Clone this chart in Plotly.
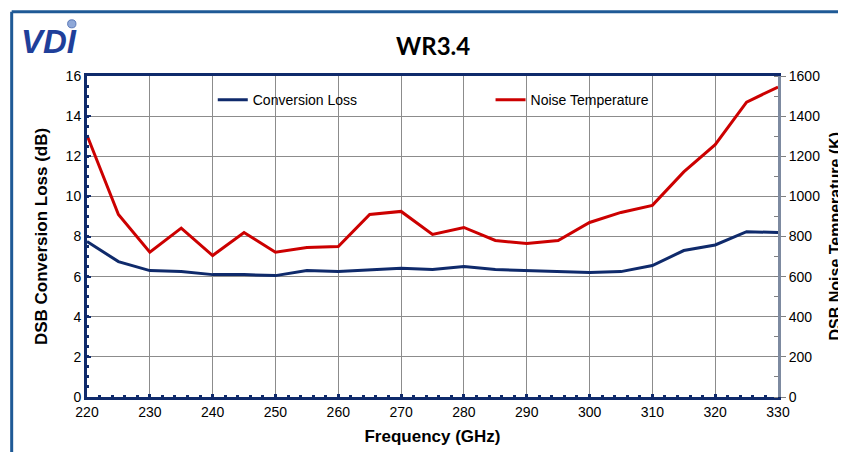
import plotly.graph_objects as go

freq = [220, 225, 230, 235, 240, 245, 250, 255, 260, 265, 270, 275,
        280, 285, 290, 295, 300, 305, 310, 315, 320, 325, 330]
conv_loss = [7.75, 6.75, 6.3, 6.25, 6.1, 6.1, 6.05, 6.3, 6.25, 6.35, 6.42, 6.35,
             6.5, 6.35, 6.3, 6.25, 6.2, 6.25, 6.55, 7.3, 7.58, 8.24, 8.2]
noise_temp = [1305, 910, 722, 842, 705, 820, 722, 745, 750, 910, 925, 810,
              845, 780, 765, 780, 870, 920, 955, 1122, 1258, 1470, 1545]

x_ticks = list(range(220, 331, 10))
y1_ticks = list(range(0, 17, 2))
y2_ticks = list(range(0, 1601, 200))

NAVY = "#0f2a6b"
RED = "#cc0000"
GRAYAX = "#7d8aa0"
FRAME = "#1f5a96"
FONT = "Liberation Sans, Arial, sans-serif"

fig = go.Figure()
fig.add_trace(go.Scatter(x=freq, y=conv_loss, mode="lines", name="Conversion Loss",
                         line=dict(color=NAVY, width=3), yaxis="y", legend="legend"))
fig.add_trace(go.Scatter(x=freq, y=noise_temp, mode="lines", name="Noise Temperature",
                         line=dict(color=RED, width=3), yaxis="y2", legend="legend2"))

leg_common = dict(orientation="h", xanchor="left", yanchor="middle",
                  bgcolor="rgba(0,0,0,0)", font=dict(size=14, family=FONT))

fig.update_layout(
    width=838, height=444,
    margin=dict(l=79, r=68, t=68, b=55, autoexpand=False),
    paper_bgcolor="white", plot_bgcolor="white",
    font=dict(family=FONT, size=14, color="black"),
    showlegend=True,
    legend=dict(x=0.182, y=0.925, **leg_common),
    legend2=dict(x=0.584, y=0.925, **leg_common),
    xaxis=dict(range=[220, 330], tickvals=x_ticks, ticktext=[str(v) for v in x_ticks],
               showgrid=True, gridcolor="#8c8c8c", gridwidth=1,
               showline=True, linecolor=NAVY, linewidth=3, mirror=True,
               ticks="inside", ticklen=3, tickwidth=3, tickcolor=NAVY,
               minor=dict(dtick=2, ticks="inside", ticklen=2, tickwidth=3, tickcolor=NAVY, showgrid=False),
               zeroline=False, tickfont=dict(size=14), automargin=False,
               title=dict(text="<b>Frequency (GHz)</b>", font=dict(size=17), standoff=12)),
    yaxis=dict(range=[0, 16], tickvals=y1_ticks, ticktext=[str(v) for v in y1_ticks],
               showgrid=True, gridcolor="#8c8c8c", gridwidth=1,
               showline=True, linecolor=NAVY, linewidth=3,
               ticks="inside", ticklen=4, tickwidth=2, tickcolor=NAVY,
               minor=dict(dtick=0.5, ticks="inside", ticklen=2, tickwidth=3, tickcolor=NAVY, showgrid=False),
               zeroline=False, tickfont=dict(size=14), automargin=False,
               title=dict(text="<b>DSB Conversion Loss (dB)</b>", font=dict(size=17), standoff=14)),
    yaxis2=dict(range=[0, 1600], tickvals=y2_ticks, ticktext=[str(v) for v in y2_ticks],
                overlaying="y", side="right", showgrid=False,
                showline=True, linecolor=GRAYAX, linewidth=3,
                ticks="outside", ticklen=5, tickwidth=1, tickcolor="#808080",
                minor=dict(dtick=100, ticks="inside", ticklen=4, tickwidth=1, tickcolor="#808080"),
                zeroline=False, tickfont=dict(size=14), automargin=False),
    annotations=[
        dict(text="<b>WR3.4</b>", xref="paper", yref="paper", x=0.5, y=1.0, yshift=31,
             xanchor="center", yanchor="middle", showarrow=False,
             font=dict(size=24, family="Lato, Open Sans, sans-serif", color="black")),
        dict(text="<b><i>VDI</i></b>", xref="paper", yref="paper", x=-0.098, y=1.0, yshift=35,
             xanchor="left", yanchor="middle", showarrow=False,
             font=dict(size=33, family="Liberation Sans, Arial", color="#1f3f9a")),
        dict(text="<b>DSB Noise Temperature (K)</b>", xref="paper", yref="paper",
             x=1.0, xshift=57, y=0.5, textangle=-90, xanchor="center", yanchor="middle",
             showarrow=False, font=dict(size=16, color="black")),
    ],
    shapes=[
        dict(type="line", xref="paper", yref="paper", x0=-0.109, x1=-0.109, y0=1.2, y1=-0.3,
             line=dict(color=FRAME, width=3)),
        dict(type="line", xref="paper", yref="paper", x0=-0.109, x1=1.2, y0=1.2, y1=1.2,
             line=dict(color=FRAME, width=3)),
        dict(type="circle", xref="paper", yref="paper", x0=-0.028, x1=-0.016, y0=1.15, y1=1.175,
             fillcolor="#8fa8d8", line=dict(color="#5a78b8", width=1)),
    ],
)

fig.write_html("out.html")
